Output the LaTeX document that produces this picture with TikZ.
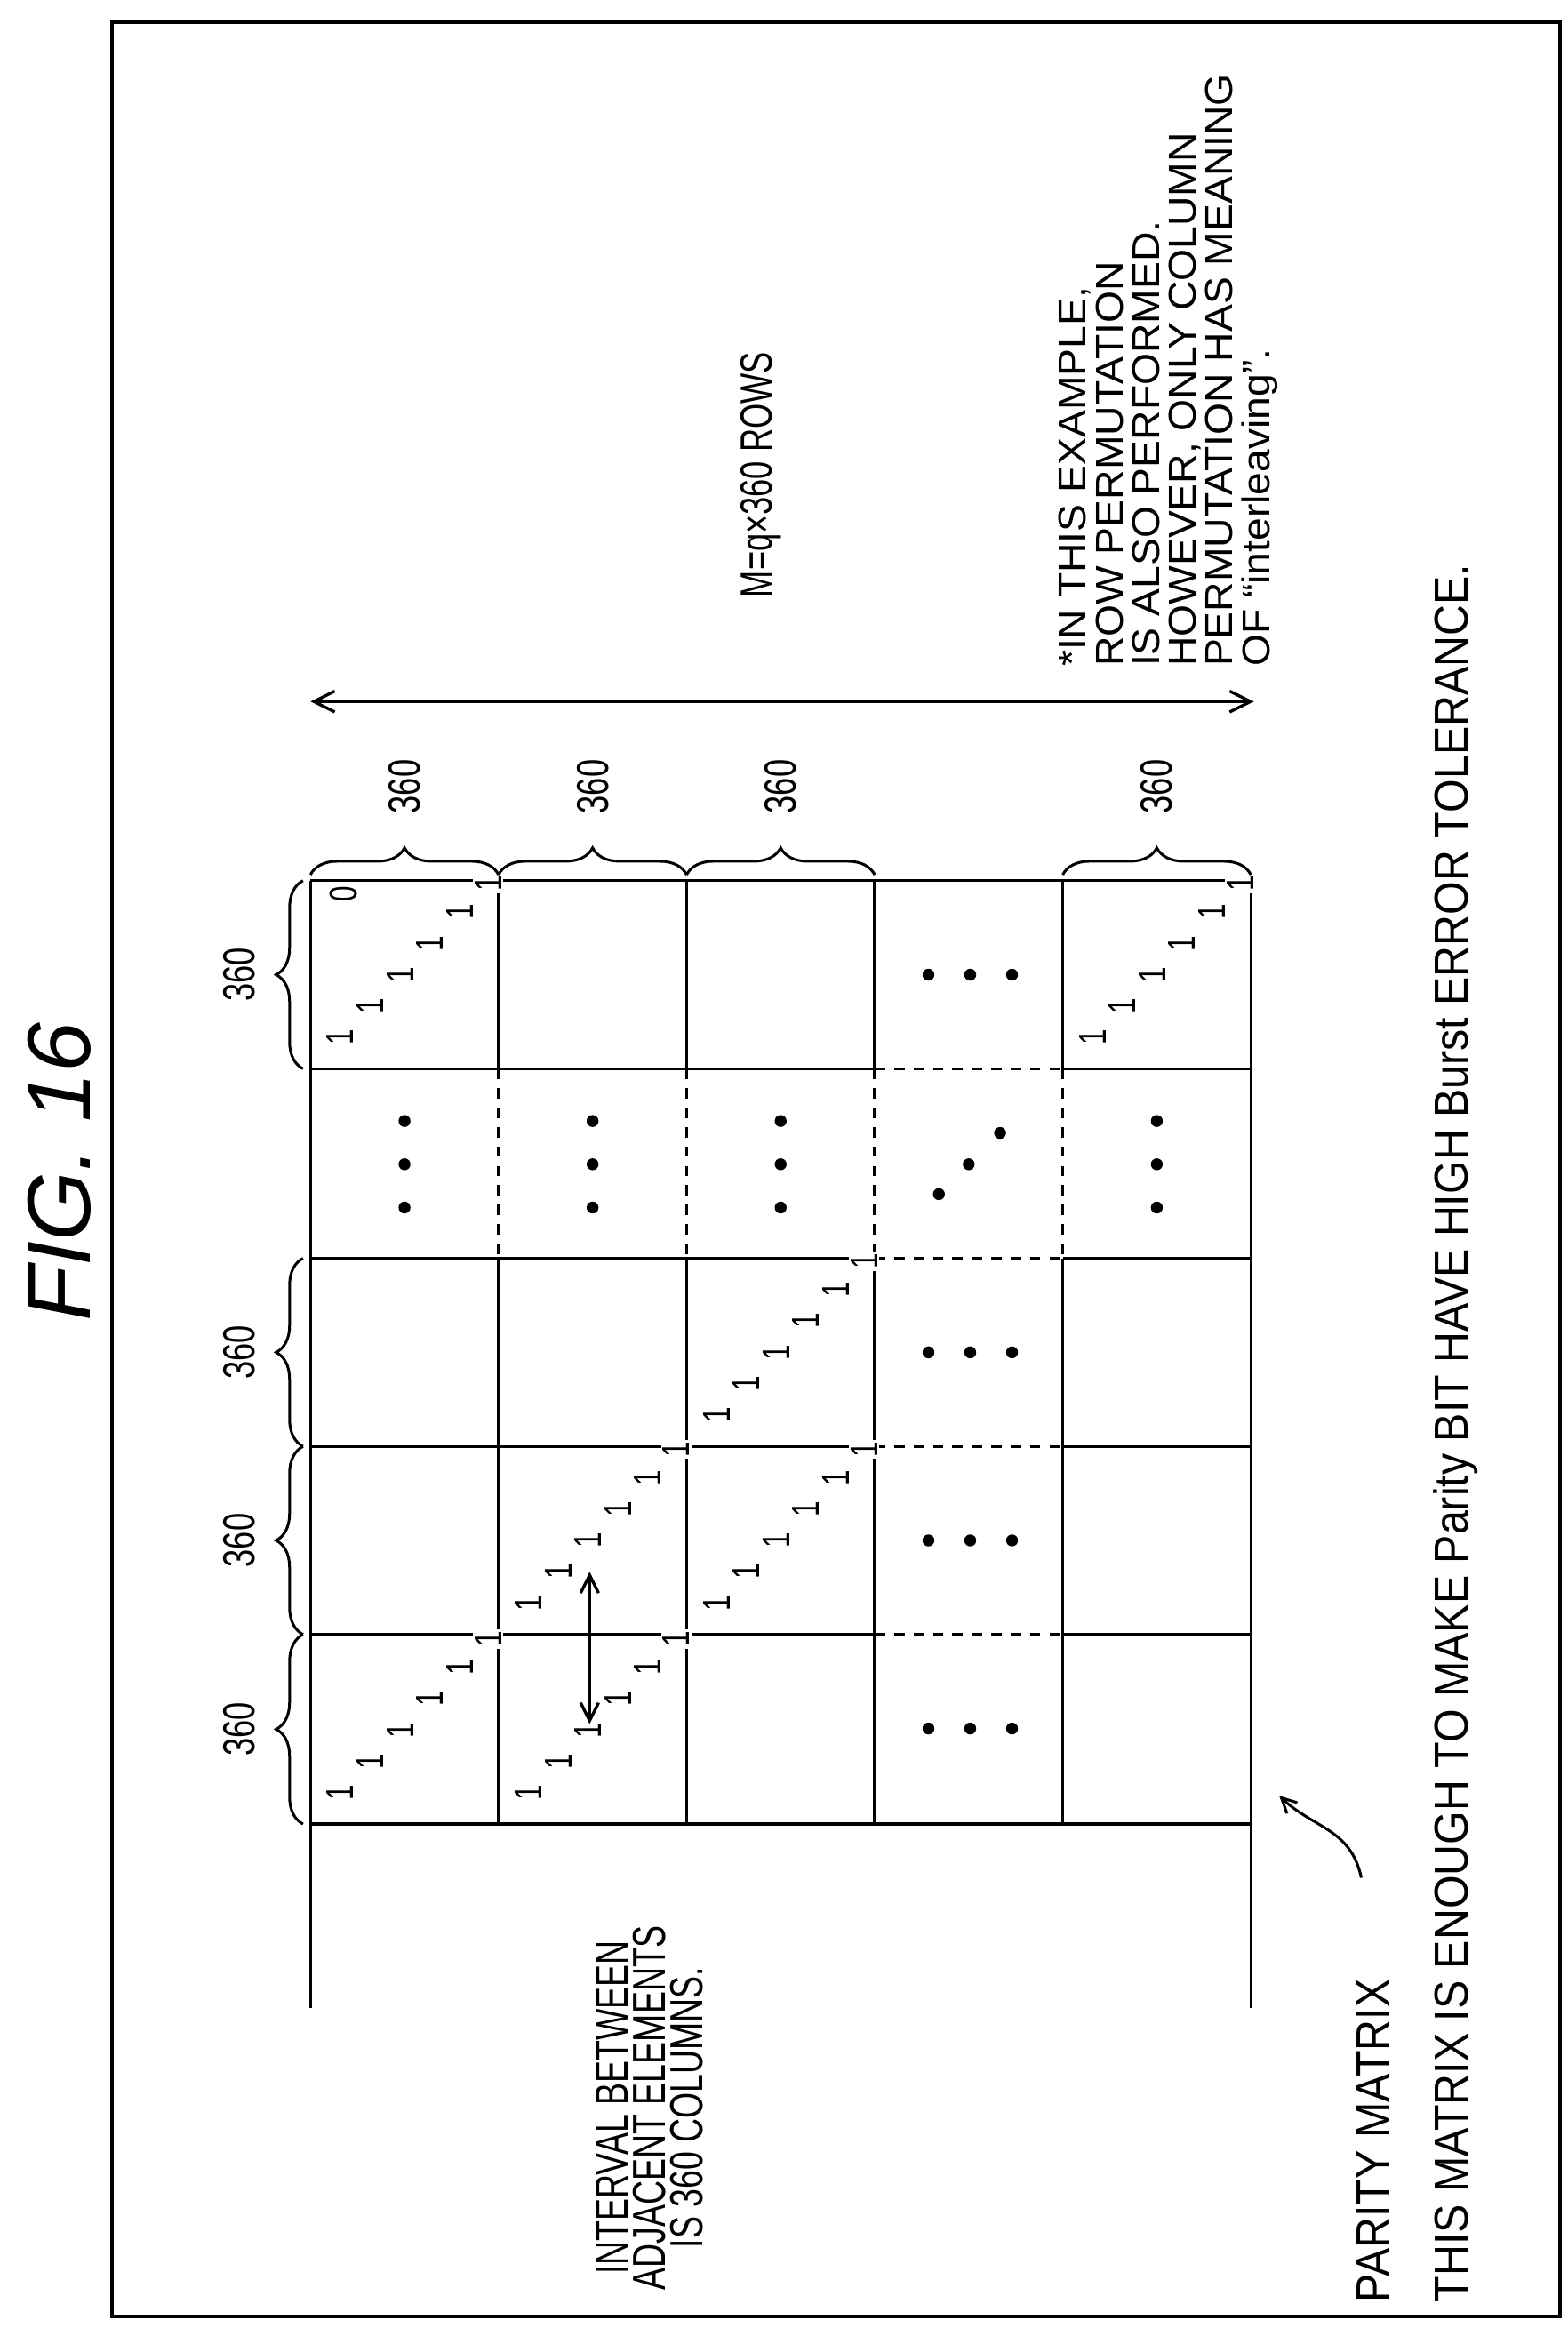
\documentclass[tikz,border=0pt]{standalone}
\usepackage{fontspec}
\setmainfont{Liberation Sans}
\newfontfamily\nar[FakeStretch=0.72]{Liberation Sans}
\newfontfamily\narb[FakeStretch=0.9]{Liberation Sans}
\newfontfamily\narc[FakeStretch=1.06]{Liberation Sans}
\usetikzlibrary{decorations.pathreplacing,arrows.meta}
\begin{document}
\begin{tikzpicture}[x=0.5pt,y=-0.5pt,
  ln/.style={line width=1pt},
  dln/.style={line width=1pt,dash pattern=on 3.5pt off 3pt},
  one/.style={rotate=90,font=\nar\fontsize{13}{13}\selectfont,inner sep=0.6pt},
  lab/.style={rotate=90,font=\nar\fontsize{15}{15}\selectfont,inner sep=1pt},
  brc/.style={line width=0.9pt,decorate,decoration={brace,amplitude=9pt}},
  dot/.style={circle,fill=black,inner sep=0pt,minimum size=4pt}]
\useasboundingbox (0,0) rectangle (1050,1565);
\draw[line width=1.2pt] (75,15) rectangle (1045,1552);
\node[rotate=90,font=\fontsize{30}{30}\selectfont\itshape] (title) at (40,785) {FIG. 16};
% grid
\foreach \x in {208,838} \draw[ln] (\x,590) -- (\x,1345);
\foreach \x in {334,460,586,712} {
  \draw[ln] (\x,590) -- (\x,716);
  \draw[dln] (\x,716) -- (\x,843);
  \draw[ln] (\x,843) -- (\x,1222);}
\foreach \y in {590,1222} \draw[ln] (208,\y) -- (838,\y);
\foreach \y in {716,843,969,1095} {
  \draw[ln] (208,\y) -- (586,\y);
  \draw[dln] (586,\y) -- (712,\y);
  \draw[ln] (712,\y) -- (838,\y);}
% identity staircases
\foreach \bx/\by [count=\i] in {208/1222,334/1222,334/1095,460/1095,460/969,208/716,712/716} {
  \foreach \k in {1,...,5} \node[one] (o\i-\k) at ({\bx+20*\k},{\by-21*\k}) {1};
  \node[one,fill=white] (o\i-6) at ({\bx+119},{\by-124}) {1};}
\node[one] (zero) at (230,599) {0};
% dots
\foreach \x [count=\i] in {271,397,523,775} \foreach \y [count=\j] in {751,780,809} \node[dot] (vd\i-\j) at (\x,\y) {};
\foreach \y [count=\i] in {1158,1032,906,653} \foreach \x [count=\j] in {622,650,678} \node[dot] (hd\i-\j) at (\x,\y) {};
\node[dot] (dd1) at (629,800) {};
\node[dot] (dd2) at (649,780) {};
\node[dot] (dd3) at (670,759) {};
% interval arrow
\coordinate (ia1) at (395,1053);
\coordinate (ia2) at (395,1155);
\draw[line width=1pt,{Straight Barb[length=6pt,width=6pt]}-{Straight Barb[length=6pt,width=6pt]}] (ia1) -- (ia2);
% left braces
\foreach \a/\b [count=\i] in {590/716,843/969,969/1095,1095/1222} {
  \draw[brc] (203,\b) -- (203,\a);
  \node[lab] (lb\i) at (160,{(\a+\b)/2}) {360};}
% top braces
\foreach \a/\b [count=\i] in {208/334,334/460,460/586,712/838} {
  \draw[brc] (\a,586) -- (\b,586);
  \node[lab] (tb\i) at ({(\a+\b)/2},527) {360};}
% M arrow
\coordinate (ma1) at (208,470);
\coordinate (ma2) at (840,470);
\draw[line width=1pt,{Straight Barb[length=7pt,width=7pt]}-{Straight Barb[length=7pt,width=7pt]}] (ma1) -- (ma2);
\node[rotate=90,font=\nar\fontsize{15}{15}\selectfont,inner sep=1pt] (mrows) at (510,318) {M=q\texttimes 360 ROWS};
% note
\node[rotate=90,anchor=north west,align=left,inner sep=0pt,font=\narc\fontsize{13}{12.3}\selectfont] (note) at (709,447)
 {*IN THIS EXAMPLE,\\ROW PERMUTATION\\IS ALSO PERFORMED.\\HOWEVER, ONLY COLUMN\\PERMUTATION HAS MEANING\\OF “interleaving”.};
\node[rotate=90,align=center,inner sep=0pt,font=\nar\fontsize{15.5}{12.5}\selectfont] (interval) at (435,1412)
 {INTERVAL BETWEEN\\ADJACENT ELEMENTS\\IS 360 COLUMNS.};
\node[rotate=90,anchor=west,inner sep=0pt,font=\narb\fontsize{16}{16}\selectfont] (parity) at (920,1543) {PARITY MATRIX};
\node[rotate=90,anchor=west,inner sep=0pt,font=\narb\fontsize{16}{16}\selectfont] (tol) at (975,1543) {THIS MATRIX IS ENOUGH TO MAKE Parity BIT HAVE HIGH Burst ERROR TOLERANCE.};
\coordinate (ps) at (912,1258);
\coordinate (pa) at (857,1203);
\draw[line width=0.9pt,-{Straight Barb[length=5pt,width=5pt]}] (ps) .. controls (905,1225) and (880,1225) .. (pa);
\end{tikzpicture}
\end{document}
